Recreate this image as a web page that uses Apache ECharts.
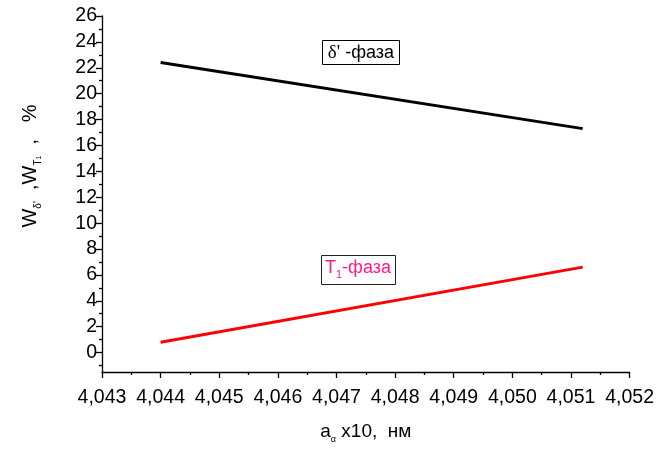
<!DOCTYPE html>
<html><head><meta charset="utf-8">
<script src="https://cdn.jsdelivr.net/npm/echarts@6/dist/echarts.min.js"></script>
<style>html,body{margin:0;padding:0;background:#fff}#c{width:657px;height:449px}</style>
</head><body><div id="c"></div>
<script>
// data
const xDelta = [4.044, 4.0512];
const yDelta = [22.4, 17.3];
const xT1 = [4.044, 4.0512];
const yT1 = [0.8, 6.6];
const yMajorTicks = [0,2,4,6,8,10,12,14,16,18,20,22,24,26];
const yMinorTicks = [-1,1,3,5,7,9,11,13,15,17,19,21,23,25];
const labelDelta = ["δ'", ' -фаза'];
const labelT1 = ['T', '1', '-фаза'];

const F = 'Liberation Sans, Arial, sans-serif';
const FS = 'Liberation Serif, Times New Roman, serif';
const chart = echarts.init(document.getElementById('c'), null, {renderer:'canvas'});
const pair = (xs, ys) => xs.map((x,i)=>[x, ys[i]]);
chart.setOption({
  animation:false,
  backgroundColor:'#fff',
  grid:{left:102, right:27, top:16, bottom:65, containLabel:false},
  xAxis:{
    type:'value', min:4.043, max:4.052, interval:0.001,
    axisLine:{onZero:false, lineStyle:{color:'#000', width:1.3}},
    axisTick:{length:6, lineStyle:{color:'#000', width:1.3}},
    minorTick:{show:true, splitNumber:2, length:3, lineStyle:{color:'#000', width:1.3}},
    splitLine:{show:false},
    axisLabel:{color:'#000', fontFamily:F, fontSize:19.5, margin:16,
      formatter:v=>v.toFixed(3).replace('.',',')},
    name:'{m|a}{s|α}{m| x10,  нм}', nameLocation:'middle', nameGap:48,
    nameTextStyle:{rich:{
      m:{fontFamily:F, fontSize:19, color:'#000', lineHeight:24, verticalAlign:'middle'},
      s:{fontFamily:F, fontSize:9, color:'#000', lineHeight:8, verticalAlign:'bottom'}
    }}
  },
  yAxis:[{
    type:'value', min:-1.5, max:26,
    axisLine:{onZero:false, lineStyle:{color:'#000', width:1.3}},
    axisTick:{length:6, customValues:yMajorTicks, lineStyle:{color:'#000', width:1.3}},
    splitLine:{show:false},
    axisLabel:{color:'#000', fontFamily:F, fontSize:19.5, margin:5, customValues:yMajorTicks}
  },{
    type:'value', min:-1.5, max:26, position:'left',
    axisLine:{show:false},
    axisTick:{length:3, customValues:yMinorTicks, lineStyle:{color:'#000', width:1.3}},
    splitLine:{show:false},
    axisLabel:{show:false}
  }],
  series:[
    {type:'line', data:pair(xDelta,yDelta), symbol:'none', lineStyle:{color:'#000', width:3}},
    {type:'line', data:pair(xT1,yT1), symbol:'none', lineStyle:{color:'#ff0000', width:3}}
  ],
  graphic:[
    {type:'text', x:30, y:166, rotation:Math.PI/2,
      style:{text:"{m|W}{s|δ'}{m|  ,W}{s|T}{ss|1}{m|  ,   %}", align:'center', verticalAlign:'middle',
        rich:{
          m:{fontFamily:F, fontSize:20, fill:'#000', lineHeight:26, verticalAlign:'middle'},
          s:{fontFamily:F, fontSize:10, fill:'#000', lineHeight:10, verticalAlign:'bottom'},
          ss:{fontFamily:F, fontSize:7, fill:'#000', lineHeight:5, verticalAlign:'bottom'}
        }}},
    {type:'rect', shape:{x:322.5, y:40.5, width:77, height:24}, style:{fill:'#fff', stroke:'#000', lineWidth:1}},
    {type:'text', x:361, y:53, style:{text:'{d|'+labelDelta[0]+'}{m|'+labelDelta[1]+'}', align:'center', verticalAlign:'middle',
      rich:{
        d:{fontFamily:FS, fontSize:19, fill:'#000', lineHeight:24, verticalAlign:'middle'},
        m:{fontFamily:F, fontSize:18, fill:'#000', lineHeight:24, verticalAlign:'middle'}
      }}},
    {type:'rect', shape:{x:321.5, y:255.5, width:74, height:29}, style:{fill:'#fff', stroke:'#222', lineWidth:1}},
    {type:'text', x:358, y:268, style:{text:'{m|'+labelT1[0]+'}{s|'+labelT1[1]+'}{m|'+labelT1[2]+'}', align:'center', verticalAlign:'middle',
      rich:{
        m:{fontFamily:F, fontSize:18, fill:'#ff1a8c', lineHeight:24, verticalAlign:'middle'},
        s:{fontFamily:F, fontSize:11, fill:'#ff1a8c', lineHeight:10, verticalAlign:'bottom'}
      }}}
  ]
});
</script></body></html>
